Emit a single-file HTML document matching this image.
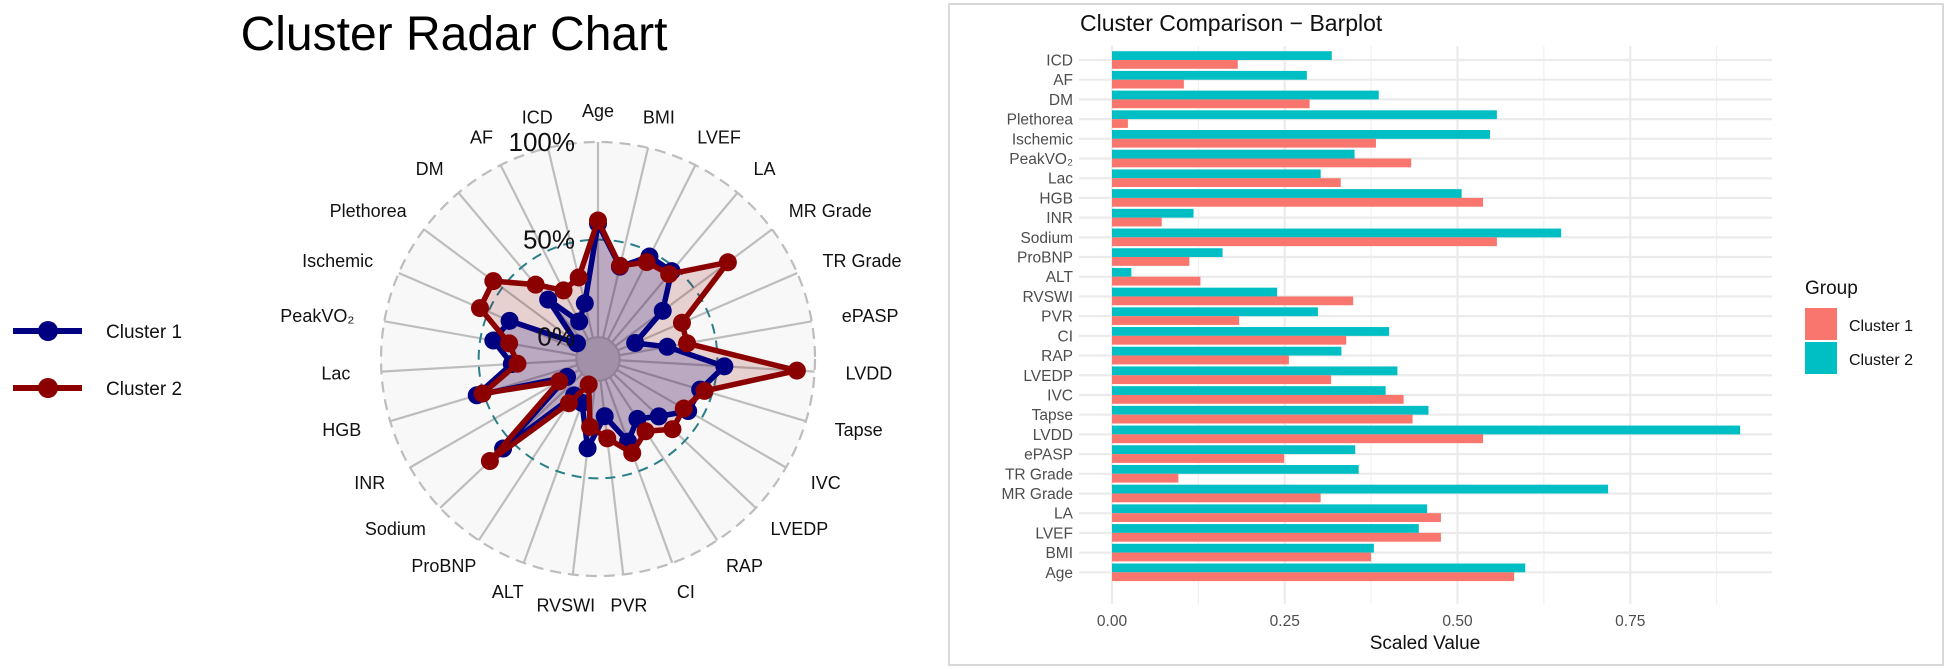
<!DOCTYPE html>
<html><head><meta charset="utf-8">
<style>
html,body{margin:0;padding:0;background:#fff;}
svg{display:block;font-family:"Liberation Sans",Arial,sans-serif;}
</style></head>
<body>
<svg id="s" width="1948" height="669" viewBox="0 0 1948 669" xmlns="http://www.w3.org/2000/svg">
<rect width="1948" height="669" fill="#fff"/>
<text x="454" y="50" font-size="48" text-anchor="middle" fill="#000">Cluster Radar Chart</text>
<line x1="13" y1="331" x2="82" y2="331" stroke="#000080" stroke-width="6"/>
<circle cx="48" cy="331" r="10" fill="#000080"/>
<text x="106" y="338" font-size="19" fill="#111">Cluster 1</text>
<line x1="13" y1="388" x2="82" y2="388" stroke="#8B0000" stroke-width="6"/>
<circle cx="48" cy="388" r="10" fill="#8B0000"/>
<text x="106" y="395" font-size="19" fill="#111">Cluster 2</text>
<g id="radar"></g>
<rect x="949" y="4" width="994" height="661" fill="#fff" stroke="#d9d9d9" stroke-width="2"/>
<text x="1080" y="31" font-size="23" fill="#111">Cluster Comparison − Barplot</text>
<g id="bars"></g>
<text x="1425" y="649" font-size="19" text-anchor="middle" fill="#111">Scaled Value</text>
<text x="1805" y="294" font-size="19" fill="#111">Group</text>
<rect x="1805" y="308" width="32" height="32" fill="#F8766D"/>
<text x="1849" y="331" font-size="16" fill="#111">Cluster 1</text>
<rect x="1805" y="342" width="32" height="32" fill="#00BFC4"/>
<text x="1849" y="365" font-size="16" fill="#111">Cluster 2</text>
</svg>
<script>
var names=["Age","BMI","LVEF","LA","MR Grade","TR Grade","ePASP","LVDD","Tapse","IVC","LVEDP","RAP","CI","PVR","RVSWI","ALT","ProBNP","Sodium","INR","HGB","Lac","PeakVO₂","Ischemic","Plethorea","DM","AF","ICD"];
var c1=[0.582,0.375,0.476,0.476,0.302,0.096,0.249,0.537,0.435,0.422,0.317,0.256,0.339,0.184,0.349,0.128,0.112,0.557,0.072,0.537,0.331,0.433,0.382,0.023,0.286,0.104,0.182];
var c2=[0.598,0.379,0.444,0.456,0.718,0.357,0.352,0.909,0.458,0.396,0.413,0.332,0.401,0.298,0.239,0.028,0.160,0.650,0.118,0.506,0.302,0.351,0.547,0.557,0.386,0.282,0.318];
var NS="http://www.w3.org/2000/svg";
function el(p,t,a,txt){var e=document.createElementNS(NS,t);for(var k in a)e.setAttribute(k,a[k]);if(txt!=null)e.textContent=txt;p.appendChild(e);return e;}
var g=document.getElementById("radar");
var cx=598,cy=359,R=217,n=27;
function rr(v){return R*(v+0.1111)/1.1111;}
function pt(i,r){var a=i*2*Math.PI/n;return [cx+r*Math.sin(a),cy-r*Math.cos(a)];}
el(g,"circle",{cx:cx,cy:cy,r:R,fill:"#f8f8f8"});
for(var i=0;i<n;i++){var p0=pt(i,rr(0)),p1=pt(i,R);el(g,"line",{x1:p0[0],y1:p0[1],x2:p1[0],y2:p1[1],stroke:"#bdbdbd","stroke-width":2.2});}
el(g,"circle",{cx:cx,cy:cy,r:R,fill:"none",stroke:"#bdbdbd","stroke-width":2.2,"stroke-dasharray":"11 7"});
el(g,"circle",{cx:cx,cy:cy,r:rr(0),fill:"#d4d4d4",stroke:"#bdbdbd","stroke-width":2});
el(g,"circle",{cx:cx,cy:cy,r:rr(0.5),fill:"none",stroke:"#2a7f8a","stroke-width":2,"stroke-dasharray":"10 7"});
function poly(d,col,op){var s="";for(var i=0;i<n;i++){var p=pt(i,rr(d[i]));s+=p[0].toFixed(1)+","+p[1].toFixed(1)+" ";}
 el(g,"polygon",{points:s,fill:col,"fill-opacity":op,stroke:"none"});return s;}
var s2=poly(c2,"#8B0000",0.16);
var s1=poly(c1,"#000080",0.19);
function lines(d,col,s){el(g,"polygon",{points:s,fill:"none",stroke:col,"stroke-width":5.5,"stroke-linejoin":"round"});
 for(var i=0;i<n;i++){var p=pt(i,rr(d[i]));el(g,"circle",{cx:p[0],cy:p[1],r:9,fill:col});}}
lines(c1,"#000080",s1);
lines(c2,"#8B0000",s2);
el(g,"text",{x:575,y:cy-R+9,"font-size":26,"text-anchor":"end",fill:"#111"},"100%");
el(g,"text",{x:575,y:cy-rr(0.5)+9,"font-size":26,"text-anchor":"end",fill:"#111"},"50%");
el(g,"text",{x:575,y:cy-rr(0)+8,"font-size":26,"text-anchor":"end",fill:"#111"},"0%");
for(var i=0;i<n;i++){var a=i*2*Math.PI/n,L=248;var x=cx+L*Math.sin(a),y=cy-L*Math.cos(a);
 var t=el(g,"text",{x:x,y:y+6,"font-size":18,fill:"#111"},names[i]);
 var w=t.getComputedTextLength();var hj=0.5-0.5*Math.sin(a);t.setAttribute("x",x-hj*w);}
var b=document.getElementById("bars");
var x0=1112,U=691,pl=1079,pr=1772,pt0=46,pb=604;
for(var k=0;k<4;k++){var xm=x0+(k+0.5)*0.25*U;el(b,"line",{x1:xm,y1:pt0,x2:xm,y2:pb,stroke:"#f0f0f0","stroke-width":1.2});}
for(var k=0;k<4;k++){var xm=x0+k*0.25*U;el(b,"line",{x1:xm,y1:pt0,x2:xm,y2:pb,stroke:"#ebebeb","stroke-width":2.2});}
var step=(592-60)/27;
for(var j=0;j<n;j++){var idx=n-1-j;var y=60+j*step;
 el(b,"line",{x1:pl,y1:y,x2:pr,y2:y,stroke:"#ebebeb","stroke-width":2.2});
 el(b,"rect",{x:x0,y:y-8.8,width:c2[idx]*U,height:8.8,fill:"#00BFC4"});
 el(b,"rect",{x:x0,y:y,width:c1[idx]*U,height:8.8,fill:"#F8766D"});
 el(b,"text",{x:1073,y:y+5.5,"font-size":15.5,"text-anchor":"end",fill:"#4d4d4d"},names[idx]);}
var tl=["0.00","0.25","0.50","0.75"];
for(var k=0;k<4;k++){el(b,"text",{x:x0+k*0.25*U,y:626,"font-size":15.5,"text-anchor":"middle",fill:"#4d4d4d"},tl[k]);}
</script>
</body></html>
